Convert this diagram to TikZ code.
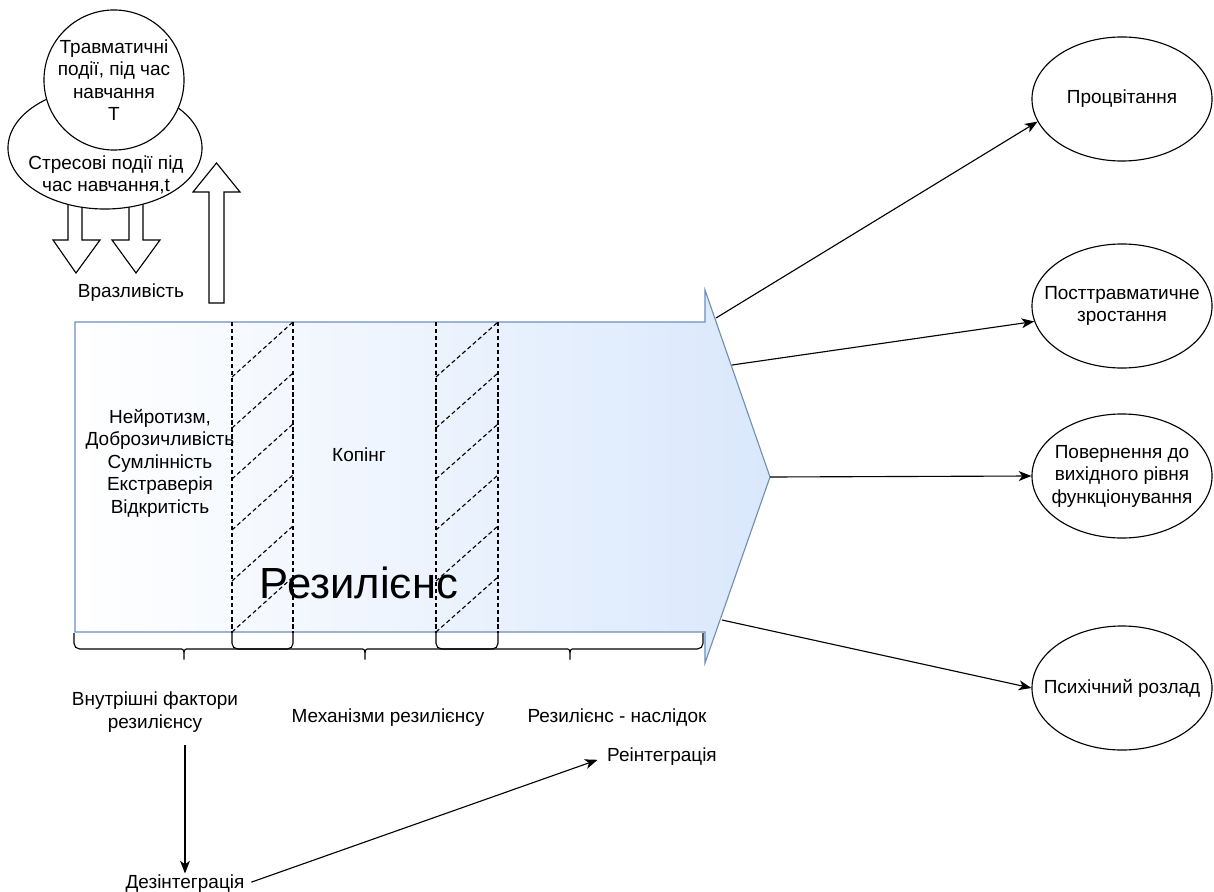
\documentclass[tikz,border=0pt]{standalone}
\usepackage{fontspec}
\setmainfont{Liberation Sans}
\usetikzlibrary{shapes.geometric, arrows.meta, positioning}

\definecolor{resfill}{HTML}{DAE8FC}
\definecolor{resline}{HTML}{6C8EBF}

\tikzset{
  txt/.style={font=\fontsize{13.5}{16}\selectfont, align=center, inner sep=1pt},
  outcome/.style={ellipse, draw, line width=0.8pt, minimum width=4.5cm, minimum height=3.1cm, inner sep=0pt},
  conn/.style={-{Stealth[length=9pt, width=7pt, inset=2.5pt]}, line width=0.8pt},
  band/.style={dash pattern=on 3pt off 2pt, line width=0.8pt},
  brc/.style={line width=0.8pt, rounded corners=4pt},
  blockarr/.style={draw, fill=white, line width=0.8pt},
}

\begin{document}
\begin{tikzpicture}[x=0.025cm, y=-0.025cm]
\useasboundingbox (0,0) rectangle (1214,892);

% big arrow
\draw[resline, line width=0.8pt, left color=white, right color=resfill] (75,322) -- (705,322) -- (705,290) -- (770,477) -- (705,663) -- (705,632) -- (75,632) -- cycle;
\coordinate (h1) at (716,318);
\coordinate (h2) at (732,365);
\coordinate (tip) at (770,477);
\coordinate (h4) at (722,620);

\node[txt] (pers) at (160,463) {Нейротизм,\\Доброзичливість\\Сумлінність\\Екстраверія\\Відкритість};
\node[txt] (coping) at (359,455) {Копінг};
\node[font=\fontsize{31}{36}\selectfont, inner sep=0pt] (res) at (359,583) {Резилієнс};

% overlapping bands
\draw[band] (232,322) -- (232,633);
\draw[band] (293,322) -- (293,633);
\draw[band] (232,377) -- (293,322);
\draw[band] (232,428) -- (293,373);
\draw[band] (232,479) -- (293,424);
\draw[band] (232,530) -- (293,475);
\draw[band] (232,581) -- (293,526);
\draw[band] (232,632) -- (293,577);

\draw[band] (436,322) -- (436,633);
\draw[band] (498,322) -- (498,633);
\draw[band] (436,377) -- (498,322);
\draw[band] (436,428) -- (498,373);
\draw[band] (436,479) -- (498,424);
\draw[band] (436,530) -- (498,475);
\draw[band] (436,581) -- (498,526);
\draw[band] (436,632) -- (498,577);

% braces
\draw[brc] (74,633) |- (176,649) .. controls (184,649) and (184,652) .. (184,663) .. controls (184,652) and (184,649) .. (192,649) -| (293,633);
\draw[brc] (232,633) |- (357,649) .. controls (365,649) and (365,652) .. (365,663) .. controls (365,652) and (365,649) .. (373,649) -| (498,633);
\draw[brc] (436,633) |- (562,649) .. controls (570,649) and (570,652) .. (570,663) .. controls (570,652) and (570,649) .. (578,649) -| (703,633);

\node[txt] (vnut) at (155,712) {Внутрішні фактори\\резилієнсу};
\node[txt] (mech) at (388,718) {Механізми резилієнсу};
\node[txt] (nasl) at (617,718) {Резилієнс - наслідок};
\node[txt] (rein) at (662,757) {Реінтеграція};
\node[txt] (dez) at (185,884) {Дезінтеграція};
\draw[conn] ([yshift=-8pt]vnut.south -| dez.north) -- (dez.north);
\draw[conn, shorten <=4pt, shorten >=6pt] (dez.east) -- (rein.west);

% outcomes
\node[outcome] (proc) at (1122,99) {};
\node[txt] at (proc) {Процвітання};
\node[outcome] (post) at (1122,306) {};
\node[txt] at (post) {Посттравматичне\\зростання};
\node[outcome] (ret) at (1122,476) {};
\node[txt] at (ret) {Повернення до\\вихідного рівня\\функціонування};
\node[outcome] (psy) at (1122,688) {};
\node[txt] at (psy) {Психічний розлад};

\draw[conn] (h1) -- (proc.195);
\draw[conn] (h2) -- (post.190);
\draw[conn] (tip) -- (ret.west);
\draw[conn] (h4) -- (psy.west);

% stress and trauma
\draw[blockarr] (68,200) -- (82,200) -- (82,240) -- (100,240) -- (76,273) -- (53,240) -- (68,240) -- cycle;
\draw[blockarr] (129,200) -- (143,200) -- (143,240) -- (160,240) -- (136,273) -- (112,240) -- (129,240) -- cycle;
\draw[blockarr] (209,303) -- (224,303) -- (224,192) -- (240,192) -- (216.5,163) -- (193,192) -- (209,192) -- cycle;
\node[ellipse, draw, fill=white, line width=0.8pt, minimum width=4.85cm, minimum height=3.05cm] (stres) at (105,148) {};
\node[circle, draw, fill=white, line width=0.8pt, minimum size=3.5cm] (trav) at (114,80) {};
\node[txt] at (trav) {Травматичні\\події, під час\\навчання\\T};
\node[txt] at (106,175) {Стресові події під\\час навчання,t};
\node[txt] (vraz) at (131,293) {Вразливість};

\end{tikzpicture}
\end{document}
